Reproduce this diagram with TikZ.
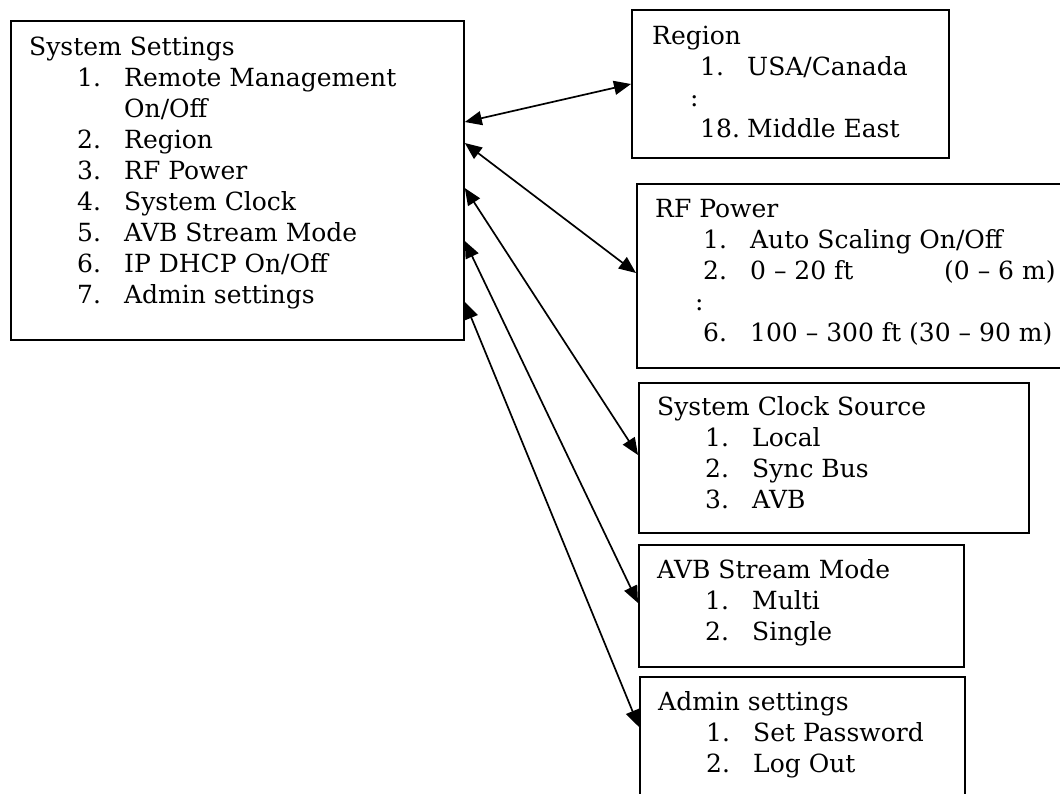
\documentclass[tikz,border=0pt]{standalone}
\usepackage{fontspec}
\setmainfont{DejaVu Serif}
\usetikzlibrary{arrows.meta}

\tikzset{
  menubox/.style={draw, line width=1.8pt, anchor=north west, inner sep=0pt},
  menutext/.style={anchor=north west, align=left, inner sep=0pt,
    font=\fontsize{25}{31}\selectfont},
  link/.style={<->, line width=1.7pt}
}
\newcommand{\itm}[2]{\hspace*{48pt}\makebox[47pt][l]{#1}#2}

\begin{document}
\begin{tikzpicture}[x=1pt,y=-1pt,>={Triangle[length=17pt,width=14pt]}]
    \useasboundingbox (0,0) rectangle (1060,793);
    % boxes
    \node[menubox, minimum width=453pt, minimum height=319pt] (settings) at (10,20) {};
    \node[menubox, minimum width=317pt, minimum height=148pt] (region) at (631,9) {};
    \node[menubox, minimum width=440pt, minimum height=184pt] (rfpower) at (636,183) {};
    \node[menubox, minimum width=390pt, minimum height=150pt] (clock) at (638,382) {};
    \node[menubox, minimum width=325pt, minimum height=122pt] (stream) at (638,544) {};
    \node[menubox, minimum width=325pt, minimum height=135pt] (admin) at (639,676) {};
    % texts (strut on first line: top sits 21.7pt over its baseline)
    \node[menutext] (settingslist) at ([xshift=19pt,yshift=-13.3pt]settings.north west)
        {\strut System Settings\\ \itm{1.}{Remote Management}\\ \itm{}{On/Off}\\
         \itm{2.}{Region}\\ \itm{3.}{RF Power}\\ \itm{4.}{System Clock}\\
         \itm{5.}{AVB Stream Mode}\\ \itm{6.}{IP DHCP On/Off}\\ \itm{7.}{Admin settings}};
    \node[menutext] (regionlist) at ([xshift=21pt,yshift=-13.3pt]region.north west)
        {\strut Region\\ \itm{1.}{USA/Canada}\\ \hspace*{38pt}:\\ \itm{18.}{Middle East}};
    \node[menutext] (rfpowerlist) at ([xshift=19pt,yshift=-12.3pt]rfpower.north west)
        {\strut RF Power\\ \itm{1.}{Auto Scaling On/Off}\\
         \itm{2.}{\makebox[194pt][l]{0 -- 20 ft}(0 -- 6 m)}\\ \hspace*{40pt}:\\
         \itm{6.}{100 -- 300 ft (30 -- 90 m)}};
    \node[menutext] (clocklist) at ([xshift=19pt,yshift=-11.3pt]clock.north west)
        {\strut System Clock Source\\ \itm{1.}{Local}\\ \itm{2.}{Sync Bus}\\ \itm{3.}{AVB}};
    \node[menutext] (streamlist) at ([xshift=19pt,yshift=-12.3pt]stream.north west)
        {\strut AVB Stream Mode\\ \itm{1.}{Multi}\\ \itm{2.}{Single}};
    \node[menutext] (adminlist) at ([xshift=19pt,yshift=-12.3pt]admin.north west)
        {\strut Admin settings\\ \itm{1.}{Set Password}\\ \itm{2.}{Log Out}};
    % arrows
    \draw[link] ([yshift=-102pt]settings.north east) -- ([yshift=-75pt]region.north west);
    \draw[link] ([yshift=-123pt]settings.north east) -- ([yshift=-90pt]rfpower.north west);
    \draw[link] ([yshift=-168pt]settings.north east) -- ([yshift=-73pt]clock.north west);
    \draw[link] ([yshift=-221pt]settings.north east) -- ([yshift=-59pt]stream.north west);
    \draw[link] ([yshift=-282pt]settings.north east) -- ([yshift=-51pt]admin.north west);
\end{tikzpicture}
\end{document}
